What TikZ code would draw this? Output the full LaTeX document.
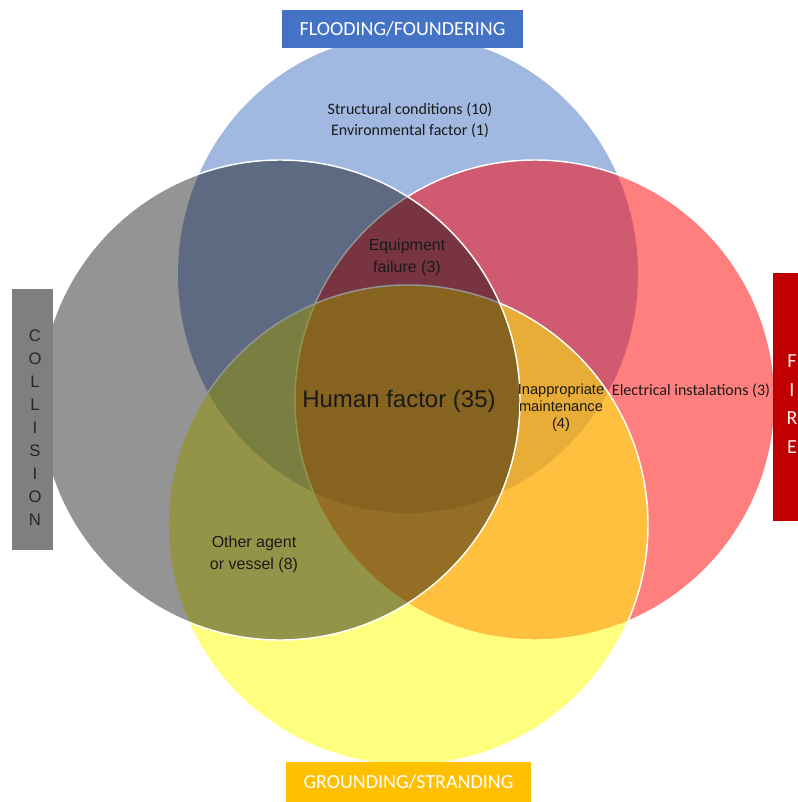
\documentclass[tikz,border=0pt]{standalone}
\usepackage{fontspec}
\setmainfont{Liberation Sans}
\newfontfamily\calibri{Carlito}
\usepackage{xcolor}
\usetikzlibrary{positioning}

\definecolor{floodblue}{HTML}{4472C4}
\definecolor{setred}{RGB}{255,0,0}
\definecolor{setyellow}{RGB}{255,255,0}
\definecolor{firered}{HTML}{C00000}
\definecolor{groundgold}{HTML}{FFC000}
\definecolor{collgrey}{HTML}{7F7F7F}
\definecolor{inktext}{HTML}{1A1A1A}

\tikzset{
  venn/.style={draw=white,line width=1.1pt},
  region/.style={align=center,inner sep=0pt,text=inktext},
  tag/.style={inner sep=0pt,font=\calibri\fontsize{15}{18}\selectfont},
  letters/.style={align=center,inner sep=0pt}
}

\begin{document}
\begin{tikzpicture}[x=0.75pt,y=-0.75pt]
  \useasboundingbox (0,0) rectangle (798,802);
  \clip (0,0) rectangle (798,802);
  \fill[white] (0,0) rectangle (798,802);

  % the four sets, bottom to top
  \fill[floodblue,fill opacity=0.5] (408,274) ellipse [x radius=230,y radius=239];
  \draw[venn,fill=setred,fill opacity=0.5] (535,400) circle (240);
  \draw[venn,fill=setyellow,fill opacity=0.5] (408,525) circle (240);
  \draw[venn,fill=black,fill opacity=0.42] (280,400) circle (240);

  % category tags
  \node[tag,fill=floodblue,text=white,minimum width=180.75pt,minimum height=28.5pt] (flood) at (402.5,29) {FLOODING/FOUNDERING};
  \node[tag,fill=groundgold,text=white,minimum width=183.75pt,minimum height=30pt] (ground) at (408.5,782) {GROUNDING/STRANDING};
  \node[fill=collgrey,minimum width=30.75pt,minimum height=195.75pt,inner sep=0pt] (collision) at (32.5,419.5) {};
  \node[letters,text=black!85,font=\fontsize{12.5}{17.3}\selectfont] (collisiontext) at (35,427.5)
    {C\\O\\L\\L\\I\\S\\I\\O\\N};
  \node[fill=firered,minimum width=37.5pt,minimum height=186pt,inner sep=0pt] (fire) at (798,397) {};
  \node[letters,text=white!92!red,font=\calibri\fontsize{15}{21.5}\selectfont] (firetext) at (792,404)
    {F\\I\\R\\E};

  % counts per region
  \node[region,font=\calibri\fontsize{12}{15.75}\selectfont] (structural) at (410,120)
    {Structural conditions (10)\\Environmental factor (1)};
  \node[region,font=\fontsize{12}{16.5}\selectfont] (equipment) at (407,257) {Equipment\\failure (3)};
  \node[region,font=\fontsize{18}{21}\selectfont] (human) at (399,401) {Human factor (35)};
  \node[region,font=\fontsize{11}{12.75}\selectfont] (maintenance) at (561,408)
    {Inappropriate\\maintenance\\(4)};
  \node[region,font=\calibri\fontsize{12}{14}\selectfont] (electrical) at (691,391) {Electrical instalations (3)};
  \node[region,font=\fontsize{12}{16.5}\selectfont] (other) at (254,554) {Other agent\\or vessel (8)};
\end{tikzpicture}
\end{document}
